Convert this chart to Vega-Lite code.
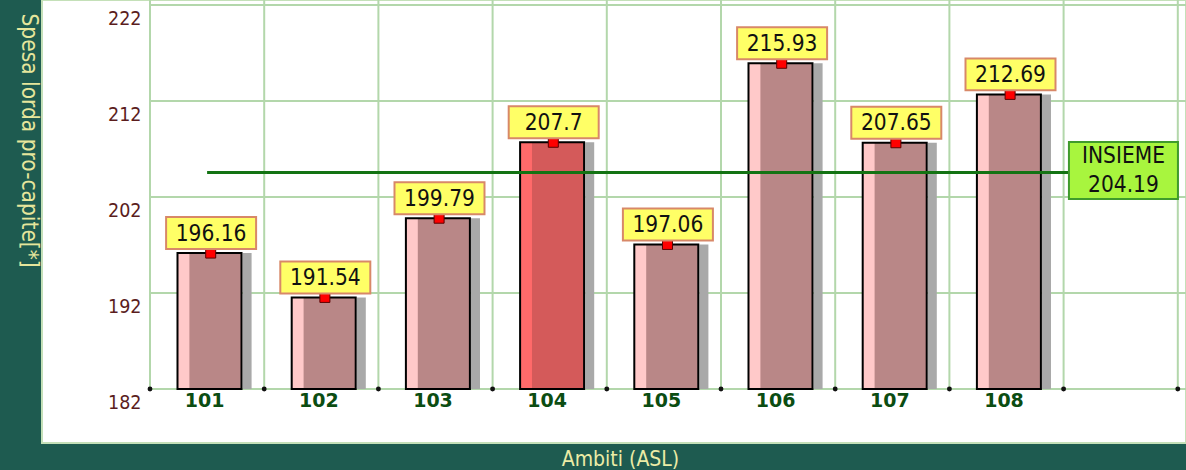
{
  "$schema": "https://vega.github.io/schema/vega-lite/v6.json",
  "width": 1144,
  "height": 443,
  "autosize": "none",
  "padding": {"left": 42, "top": 0, "right": 0, "bottom": 27},
  "background": "#1e5b50",
  "config": {"view": {"fill": "white", "stroke": "#c4e0b8", "strokeWidth": 2}, "scale": {"continuousPadding": 0}},
  "datasets": {
    "asl": [
      {"ASL": 101, "spesa": 196.16, "evidenza": "no"},
      {"ASL": 102, "spesa": 191.54, "evidenza": "no"},
      {"ASL": 103, "spesa": 199.79, "evidenza": "no"},
      {"ASL": 104, "spesa": 207.7, "evidenza": "si"},
      {"ASL": 105, "spesa": 197.06, "evidenza": "no"},
      {"ASL": 106, "spesa": 215.93, "evidenza": "no"},
      {"ASL": 107, "spesa": 207.65, "evidenza": "no"},
      {"ASL": 108, "spesa": 212.69, "evidenza": "no"}
    ],
    "xgrid": [{"b": 100.5}, {"b": 101.5}, {"b": 102.5}, {"b": 103.5}, {"b": 104.5}, {"b": 105.5}, {"b": 106.5}, {"b": 107.5}, {"b": 108.5}, {"b": 109.5}],
    "ygrid": [{"v": 182}, {"v": 192}, {"v": 202}, {"v": 212}, {"v": 222}],
    "media": [{"label": "INSIEME", "spesa": 204.19}]
  },
  "layer": [
    {
      "data": {"name": "ygrid"},
      "mark": {"type": "rule", "stroke": "#b3d7ab", "strokeWidth": 2},
      "encoding": {
        "y": {"field": "v", "type": "quantitative",
          "scale": {"domain": [176.375, 222.521], "nice": false, "zero": false, "padding": 0},
          "axis": {"values": [182, 192, 202, 212, 222], "offset": -108, "domain": false, "ticks": false, "grid": false,
            "labelFont": "DejaVu Sans Condensed", "labelFontSize": 19.5, "labelColor": "#5b1d1d", "labelPadding": 9,
            "labelBaseline": "alphabetic", "labelOffset": 19, "labelFlush": false,
            "title": "Spesa lorda pro-capite[*]", "titleAngle": 90, "titleAlign": "left", "titleBaseline": "middle",
            "titleX": -122, "titleY": 13, "titleFont": "DejaVu Sans Condensed", "titleFontSize": 22.5,
            "titleFontWeight": "normal", "titleColor": "#e6e69c"}},
        "x": {"datum": 100.5, "type": "quantitative",
          "scale": {"domain": [99.5543, 109.5718], "nice": false, "zero": false, "padding": 0},
          "axis": {"values": [101, 102, 103, 104, 105, 106, 107, 108], "format": "d", "offset": -54, "domain": false,
            "ticks": false, "grid": false, "labelFlush": false, "labelFont": "DejaVu Sans", "labelFontWeight": "bold",
            "labelFontSize": 19, "labelColor": "#0b4d12", "labelPadding": 2, "labelBaseline": "top", "labelOffset": -3,
            "title": "Ambiti (ASL)", "titleFont": "DejaVu Sans Condensed", "titleFontSize": 21, "titleFontWeight": "normal",
            "titleColor": "#ececa6", "titleX": 578, "titleY": 76, "titleBaseline": "alphabetic"}},
        "x2": {"datum": 109.6}
      }
    },
    {
      "data": {"name": "xgrid"},
      "mark": {"type": "rule", "stroke": "#b3d7ab", "strokeWidth": 2},
      "encoding": {
        "x": {"field": "b", "type": "quantitative"},
        "y": {"datum": 182, "type": "quantitative"},
        "y2": {"datum": 222.6}
      }
    },
    {
      "data": {"name": "xgrid"},
      "mark": {"type": "point", "filled": true, "color": "#111111", "size": 24, "opacity": 1},
      "encoding": {
        "x": {"field": "b", "type": "quantitative"},
        "y": {"datum": 182, "type": "quantitative"}
      }
    },
    {
      "data": {"name": "asl"},
      "mark": {"type": "bar", "width": 9, "xOffset": 40, "color": "#a9a9a9"},
      "encoding": {
        "x": {"field": "ASL", "type": "quantitative"},
        "y": {"field": "spesa", "type": "quantitative"},
        "y2": {"datum": 182}
      }
    },
    {
      "data": {"name": "asl"},
      "mark": {"type": "bar", "width": 64, "xOffset": 2.4},
      "encoding": {
        "x": {"field": "ASL", "type": "quantitative"},
        "y": {"field": "spesa", "type": "quantitative"},
        "y2": {"datum": 182},
        "fill": {"condition": {"test": "datum.evidenza === 'si'", "value": "#d45a5a"}, "value": "#b98787"}
      }
    },
    {
      "data": {"name": "asl"},
      "mark": {"type": "bar", "width": 12, "xOffset": -23.7},
      "encoding": {
        "x": {"field": "ASL", "type": "quantitative"},
        "y": {"field": "spesa", "type": "quantitative"},
        "y2": {"datum": 182},
        "fill": {"condition": {"test": "datum.evidenza === 'si'", "value": "#ff6a6a"}, "value": "#ffc9c9"}
      }
    },
    {
      "data": {"name": "asl"},
      "mark": {"type": "bar", "width": 64, "xOffset": 2.4, "filled": false, "stroke": "#000000", "strokeWidth": 2},
      "encoding": {
        "x": {"field": "ASL", "type": "quantitative"},
        "y": {"field": "spesa", "type": "quantitative"},
        "y2": {"datum": 182}
      }
    },
    {
      "data": {"name": "media"},
      "mark": {"type": "rule", "stroke": "#137313", "strokeWidth": 3, "yOffset": -3.5},
      "encoding": {
        "y": {"field": "spesa", "type": "quantitative"},
        "x": {"datum": 101, "type": "quantitative"},
        "x2": {"datum": 108.55}
      }
    },
    {
      "data": {"name": "asl"},
      "mark": {"type": "point", "shape": "square", "filled": true, "fill": "#ff0000", "stroke": "#5a0000", "strokeWidth": 1, "size": 100, "opacity": 1, "xOffset": 3.6},
      "encoding": {
        "x": {"field": "ASL", "type": "quantitative"},
        "y": {"field": "spesa", "type": "quantitative"}
      }
    },
    {
      "data": {"name": "asl"},
      "mark": {"type": "point", "shape": "M-1,-0.8H1V-0.089H-1Z", "filled": true, "fill": "#ffff66", "stroke": "#d88868", "strokeWidth": 2, "size": 8100, "opacity": 1, "xOffset": 4},
      "encoding": {
        "x": {"field": "ASL", "type": "quantitative"},
        "y": {"field": "spesa", "type": "quantitative"}
      }
    },
    {
      "data": {"name": "asl"},
      "mark": {"type": "text", "font": "DejaVu Sans Condensed", "fontSize": 22.5, "color": "#111111", "baseline": "alphabetic", "align": "center", "dy": -12.5, "xOffset": 4},
      "encoding": {
        "x": {"field": "ASL", "type": "quantitative"},
        "y": {"field": "spesa", "type": "quantitative"},
        "text": {"field": "spesa", "type": "nominal"}
      }
    },
    {
      "data": {"name": "media"},
      "mark": {"type": "point", "shape": "M-1,-0.523H1V0.523H-1Z", "filled": true, "fill": "#a8f53e", "stroke": "#3f9b2c", "strokeWidth": 2, "size": 11881, "opacity": 1, "yOffset": -5.5},
      "encoding": {
        "x": {"datum": 109.024, "type": "quantitative"},
        "y": {"field": "spesa", "type": "quantitative"}
      }
    },
    {
      "data": {"name": "media"},
      "mark": {"type": "text", "font": "DejaVu Sans Condensed", "fontSize": 22.5, "color": "#111111", "baseline": "alphabetic", "align": "center", "dy": -13},
      "encoding": {
        "x": {"datum": 109.024, "type": "quantitative"},
        "y": {"field": "spesa", "type": "quantitative"},
        "text": {"field": "label", "type": "nominal"}
      }
    },
    {
      "data": {"name": "media"},
      "mark": {"type": "text", "font": "DejaVu Sans Condensed", "fontSize": 22.5, "color": "#111111", "baseline": "alphabetic", "align": "center", "dy": 16},
      "encoding": {
        "x": {"datum": 109.024, "type": "quantitative"},
        "y": {"field": "spesa", "type": "quantitative"},
        "text": {"field": "spesa", "type": "nominal"}
      }
    }
  ]
}
